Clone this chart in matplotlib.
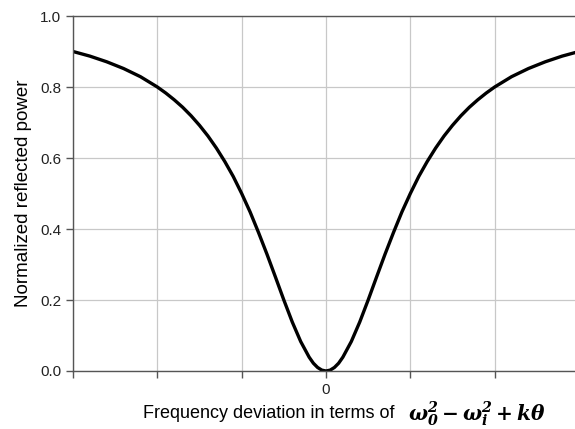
import matplotlib
matplotlib.use("Agg")
import matplotlib.pyplot as plt

plt.rcParams['font.family'] = ['Liberation Sans', 'DejaVu Sans']
plt.rcParams['mathtext.fontset'] = 'dejavuserif'

# frequency deviation (grid units) and normalized reflected power
deviation = [-3.0, -2.8, -2.6, -2.4, -2.2, -2.0, -1.9, -1.8, -1.7, -1.6, -1.5, -1.4, -1.3,
             -1.2, -1.1, -1.0, -0.9, -0.8, -0.7, -0.6, -0.5, -0.4, -0.3, -0.2, -0.15, -0.1,
             -0.05, 0.0, 0.05, 0.1, 0.15, 0.2, 0.3, 0.4, 0.5, 0.6, 0.7, 0.8, 0.9, 1.0, 1.1,
             1.2, 1.3, 1.4, 1.5, 1.6, 1.7, 1.8, 1.9, 2.0, 2.2, 2.4, 2.6, 2.8, 3.0]
power = [0.900, 0.887, 0.871, 0.852, 0.829, 0.800, 0.783, 0.764, 0.743, 0.719, 0.692, 0.662,
         0.628, 0.590, 0.548, 0.500, 0.448, 0.390, 0.329, 0.265, 0.200, 0.138, 0.083, 0.039,
         0.022, 0.010, 0.0025, 0.000, 0.0025, 0.010, 0.022, 0.039, 0.083, 0.138, 0.200,
         0.265, 0.329, 0.390, 0.448, 0.500, 0.548, 0.590, 0.628, 0.662, 0.692, 0.719, 0.743,
         0.764, 0.783, 0.800, 0.829, 0.852, 0.871, 0.887, 0.900]

x_ticks = [-3, -2, -1, 0, 1, 2, 3]
x_tick_labels = ['', '', '', '0', '', '', '']
y_ticks = [0.0, 0.2, 0.4, 0.6, 0.8, 1.0]

fig = plt.figure(figsize=(5.75, 4.29), dpi=100)
ax = fig.add_axes([73 / 575, 58 / 429, 506 / 575, 355 / 429])

ax.plot(deviation, power, color='black', linewidth=2.4, solid_capstyle='round',
        solid_joinstyle='round')

ax.set_xlim(-3, 3)
ax.set_ylim(0, 1.0)
ax.set_xticks(x_ticks)
ax.set_xticklabels(x_tick_labels)
ax.set_yticks(y_ticks)
ax.set_yticklabels(['%.1f' % v for v in y_ticks])

ax.grid(True, color='#c8c8c8', linewidth=0.9)
ax.set_axisbelow(True)
for side in ('left', 'bottom', 'top'):
    ax.spines[side].set_color('#555555')
    ax.spines[side].set_linewidth(1.0)
ax.spines['right'].set_visible(False)
ax.tick_params(axis='both', direction='out', length=5, width=1.0, color='#555555',
               labelsize=11, labelcolor='#222222')
ax.tick_params(axis='x', pad=4)

ax.set_ylabel('Normalized reflected power', fontsize=13.5, labelpad=6)

# x label: sans text followed by a bold italic formula
label_y = 1 - 413 / 429
fig.text(143 / 575, label_y, 'Frequency deviation in terms of', fontsize=13,
         ha='left', va='center')
fig.text(408 / 575, label_y - 0.004, r'$\mathbfit{\omega_0^2 - \omega_i^2 + k\theta}$',
         fontsize=14.5, ha='left', va='center')

fig.savefig('out.png', dpi=100)
